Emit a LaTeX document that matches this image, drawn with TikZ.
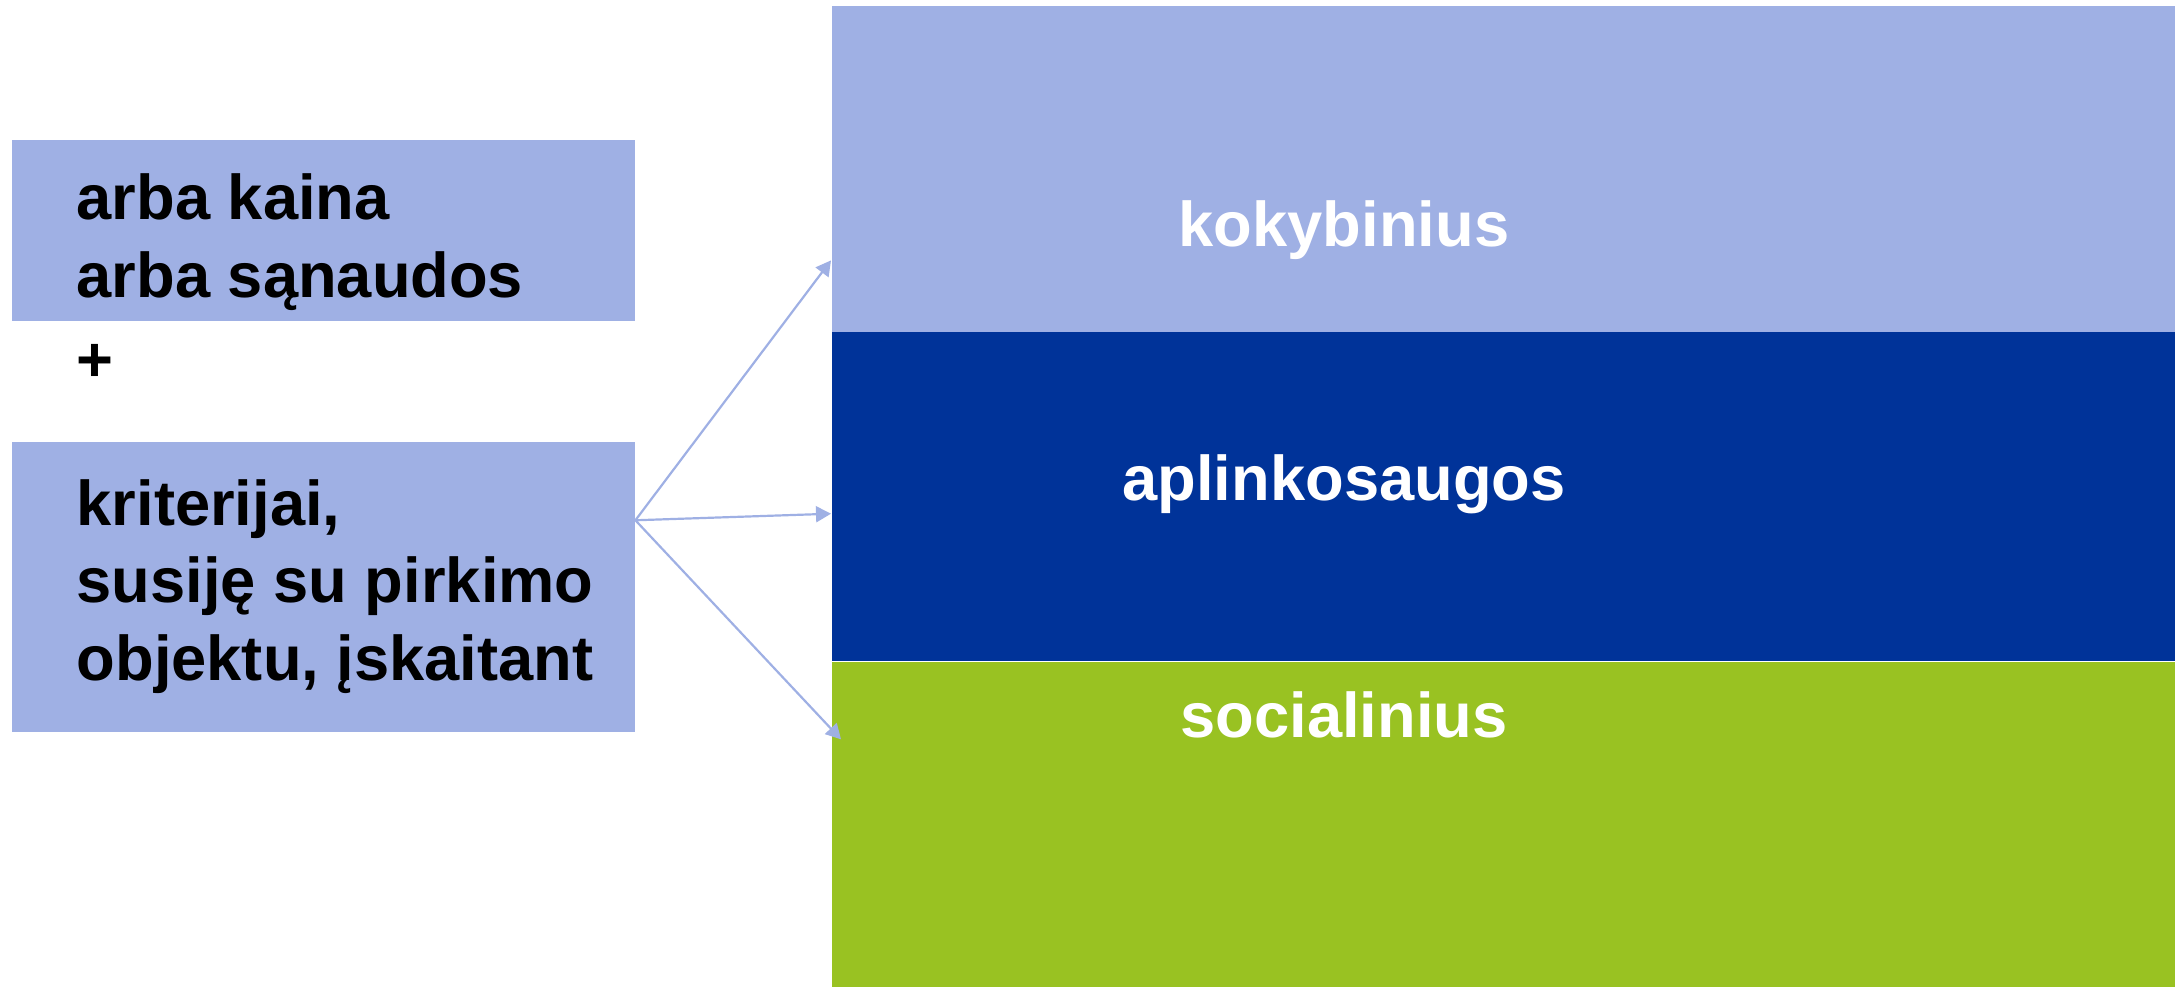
\documentclass[tikz,border=0pt]{standalone}
\usepackage{fontspec}
\setmainfont{Liberation Sans}
\usetikzlibrary{arrows.meta, calc}
\definecolor{kklight}{RGB}{159,176,228}
\definecolor{kkdark}{RGB}{0,51,153}
\definecolor{kkgreen}{RGB}{153,194,34}

\begin{document}
\begin{tikzpicture}[x=0.1mm, y=-0.1mm,
  every node/.style={font=\fontsize{18}{22}\selectfont\bfseries},
  box/.style={rectangle, fill=kklight, inner sep=0pt, anchor=north west,
              minimum width=62.3mm},
  band/.style={rectangle, inner sep=0pt, anchor=north west,
               minimum width=134.4mm},
  lbl/.style={align=left, anchor=base west, inner sep=0pt},
  blbl/.style={anchor=base, inner sep=0pt, text=white},
  arr/.style={-{Triangle[length=1.5mm, width=1.6mm]}, line width=0.22mm, kklight}]
  \useasboundingbox (0,0) rectangle (2175,986);

  % Bands on the right
  \node[band, fill=kklight, minimum height=32.6mm] (kok) at (831,5) {};
  \node[band, fill=kkdark, minimum height=32.9mm] (apl) at (831,331) {};
  \node[band, fill=kkgreen, minimum height=32.5mm] (soc) at (831,661) {};

  \node[blbl] (koklbl) at (1344,246) {kokybinius};
  \node[blbl] (apllbl) at (1344,500) {aplinkosaugos};
  \node[blbl] (soclbl) at (1344,737) {socialinius};

  % Boxes on the left
  \node[box, minimum height=18.1mm] (kaina) at (11,139) {};
  \node[box, minimum height=29mm] (krit) at (11,441) {};

  % base anchor sits on the last line
  \node[lbl] (kainalbl) at (76,297) {arba kaina\\arba sąnaudos};
  \node[lbl] (plus) at (76,381) {+};
  \node[lbl] (kritlbl) at (76,680) {kriterijai,\\susiję su pirkimo\\objektu, įskaitant};

  % Arrows
  \coordinate (src) at ($(krit.north east)!0.272!(krit.south east)$);
  \draw[arr] (src) -- ($(kok.north west)!0.78!(kok.south west)$);
  \draw[arr] (src) -- ($(apl.north west)!0.553!(apl.south west)$);
  \draw[arr] (src) -- ($(soc.north west)!0.24!(soc.south west) + (10,0)$);
\end{tikzpicture}
\end{document}
